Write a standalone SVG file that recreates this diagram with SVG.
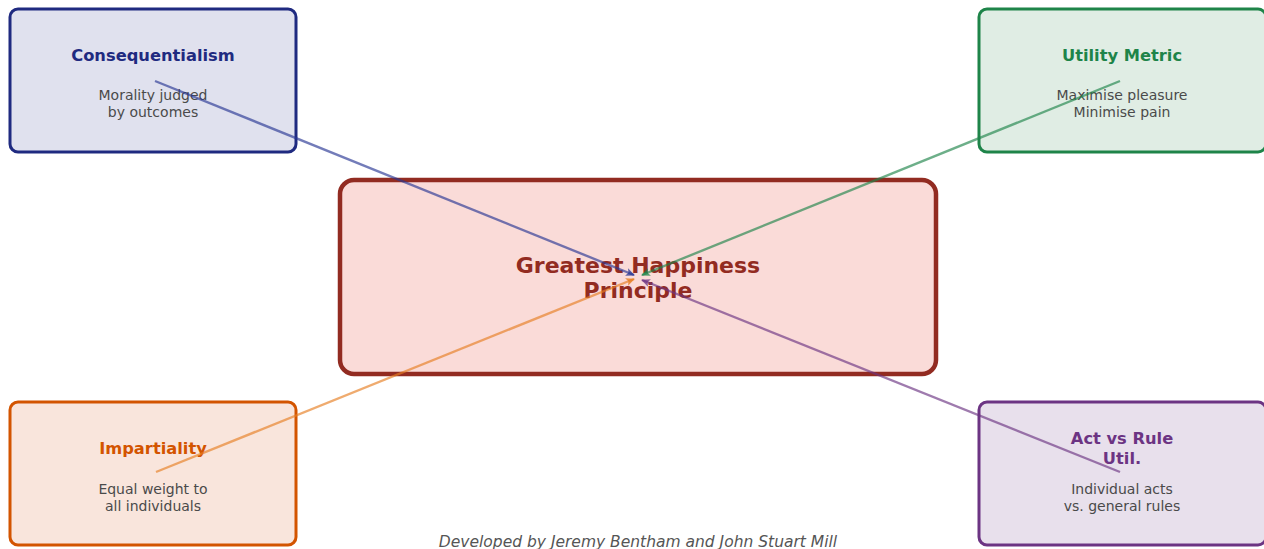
<svg xmlns="http://www.w3.org/2000/svg" width="1264" height="549" viewBox="0 0 1264 549">
<style>
text{font-family:"DejaVu Sans","Noto Sans",sans-serif;text-anchor:middle}
.t{font-size:16.3px;font-weight:bold}
.d{font-size:14px;fill:#4a4a4a}
.c{stroke-width:2.4;fill:none;stroke-opacity:0.65}
</style>
<defs>
<marker id="mb" markerWidth="10" markerHeight="10" refX="8" refY="5" orient="auto" markerUnits="userSpaceOnUse"><path d="M0,1 L9,5 L0,9 L2,5 Z" fill="#283593" fill-opacity="0.75"/></marker>
<marker id="mg" markerWidth="10" markerHeight="10" refX="8" refY="5" orient="auto" markerUnits="userSpaceOnUse"><path d="M0,1 L9,5 L0,9 L2,5 Z" fill="#1e8449" fill-opacity="0.75"/></marker>
<marker id="mo" markerWidth="10" markerHeight="10" refX="8" refY="5" orient="auto" markerUnits="userSpaceOnUse"><path d="M0,1 L9,5 L0,9 L2,5 Z" fill="#e67e22" fill-opacity="0.8"/></marker>
<marker id="mp" markerWidth="10" markerHeight="10" refX="8" refY="5" orient="auto" markerUnits="userSpaceOnUse"><path d="M0,1 L9,5 L0,9 L2,5 Z" fill="#6c3483" fill-opacity="0.75"/></marker>
</defs>
<rect width="1264" height="549" fill="#ffffff"/>
<g id="center">
<rect x="340" y="180" width="596" height="194" rx="14" fill="#fadbd8" stroke="#922b21" stroke-width="4.5"/>
<text x="638" y="273" style="font-size:22px;font-weight:bold" fill="#922b21">Greatest Happiness</text>
<text x="638" y="298" style="font-size:22px;font-weight:bold" fill="#922b21">Principle</text>
</g>
<g id="consequentialism">
<rect x="10" y="9" width="286" height="143" rx="8" fill="#e0e1ee" stroke="#1f2a80" stroke-width="3"/>
<text x="153" y="61" class="t" fill="#1f2a80">Consequentialism</text>
<text x="153" y="100" class="d">Morality judged</text>
<text x="153" y="117" class="d">by outcomes</text>
</g>
<g id="utility">
<rect x="979" y="9" width="287" height="143" rx="8" fill="#e0ede4" stroke="#1e8449" stroke-width="3"/>
<text x="1122" y="61" class="t" fill="#1e8449">Utility Metric</text>
<text x="1122" y="100" class="d">Maximise pleasure</text>
<text x="1122" y="117" class="d">Minimise pain</text>
</g>
<g id="impartiality">
<rect x="10" y="402" width="286" height="143" rx="8" fill="#f9e5dc" stroke="#d35400" stroke-width="3"/>
<text x="153" y="454" class="t" fill="#d35400">Impartiality</text>
<text x="153" y="494" class="d">Equal weight to</text>
<text x="153" y="511" class="d">all individuals</text>
</g>
<g id="actrule">
<rect x="979" y="402" width="287" height="143" rx="8" fill="#e8e0ec" stroke="#6c3483" stroke-width="3"/>
<text x="1122" y="444" class="t" fill="#6c3483">Act vs Rule</text>
<text x="1122" y="464" class="t" fill="#6c3483">Util.</text>
<text x="1122" y="494" class="d">Individual acts</text>
<text x="1122" y="511" class="d">vs. general rules</text>
</g>
<g id="connectors">
<line x1="155" y1="81" x2="634" y2="275" class="c" stroke="#283593" marker-end="url(#mb)"/>
<line x1="1120" y1="81" x2="642" y2="275" class="c" stroke="#1e8449" marker-end="url(#mg)"/>
<line x1="156" y1="472" x2="634" y2="279" class="c" stroke="#e67e22" marker-end="url(#mo)"/>
<line x1="1120" y1="472" x2="642" y2="280" class="c" stroke="#6c3483" marker-end="url(#mp)"/>
</g>
<text x="638" y="547" style="font-size:15.5px;font-style:italic" fill="#555">Developed by Jeremy Bentham and John Stuart Mill</text>
</svg>
